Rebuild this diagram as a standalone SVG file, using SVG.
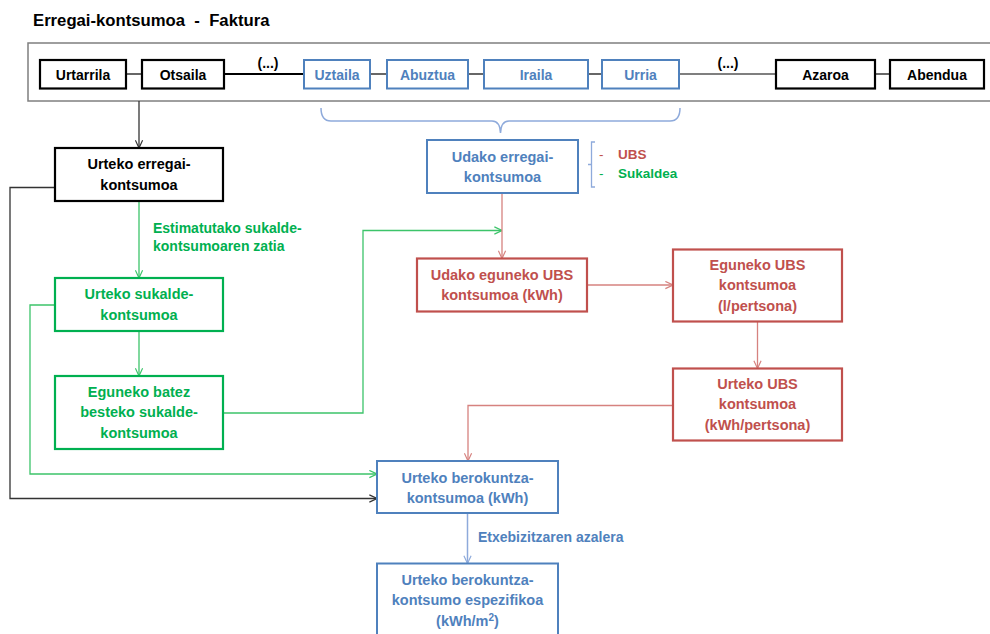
<svg xmlns="http://www.w3.org/2000/svg" width="990" height="634" viewBox="0 0 990 634">
<defs>
<style>
text{font-family:"Liberation Sans",Arial,sans-serif;font-weight:bold;}
.t{font-size:14.5px;text-anchor:middle;}
.m{font-size:14px;text-anchor:middle;}
.lbl{font-size:14px;}
.leg{font-size:13.5px;}
.kb{fill:#000;}
.kg{fill:#00b050;}
.kr{fill:#c0504d;}
.kbl{fill:#4f81bd;}
.bxk{fill:#fff;stroke:#000;stroke-width:2.2;}
.bxg{fill:#fff;stroke:#00b050;stroke-width:2.2;}
.bxr{fill:#fff;stroke:#c0504d;stroke-width:2.2;}
.bxb{fill:#fff;stroke:#4f81bd;stroke-width:2;}
.ck{fill:none;stroke:#333;stroke-width:1.3;}
.cg{fill:none;stroke:#3cc46a;stroke-width:1.3;}
.cr{fill:none;stroke:#d6827f;stroke-width:1.3;}
.cb{fill:none;stroke:#8eaadb;stroke-width:1.5;}
.ml{fill:none;stroke:#000;stroke-width:1.2;}
</style>
<marker id="ak" viewBox="0 0 10 10" refX="9.5" refY="5" markerWidth="9" markerHeight="9" markerUnits="userSpaceOnUse" orient="auto"><path d="M1,1 L9.5,5 L1,9" fill="none" stroke="#333" stroke-width="1.3"/></marker>
<marker id="ag" viewBox="0 0 10 10" refX="9.5" refY="5" markerWidth="9" markerHeight="9" markerUnits="userSpaceOnUse" orient="auto"><path d="M1,1 L9.5,5 L1,9" fill="none" stroke="#3cc46a" stroke-width="1.3"/></marker>
<marker id="ar" viewBox="0 0 10 10" refX="9.5" refY="5" markerWidth="9" markerHeight="9" markerUnits="userSpaceOnUse" orient="auto"><path d="M1,1 L9.5,5 L1,9" fill="none" stroke="#d6827f" stroke-width="1.3"/></marker>
<marker id="ab" viewBox="0 0 10 10" refX="9.5" refY="5" markerWidth="9" markerHeight="9" markerUnits="userSpaceOnUse" orient="auto"><path d="M1,1 L9.5,5 L1,9" fill="none" stroke="#8eaadb" stroke-width="1.3"/></marker>
</defs>
<rect width="990" height="634" fill="#fff"/>

<text x="33" y="26" style="font-size:16.7px" xml:space="preserve">Erregai-kontsumoa  -  Faktura</text>

<g id="timeline">
<rect x="28" y="43" width="975" height="58" fill="#fff" stroke="#7f7f7f" stroke-width="1.5"/>
<line class="ml" x1="126" y1="74" x2="142" y2="74"/>
<line class="ml" x1="224" y1="74" x2="304" y2="74" style="stroke-width:2"/>
<line class="ml" x1="370" y1="74" x2="387" y2="74"/>
<line class="ml" x1="468" y1="74" x2="484" y2="74"/>
<line class="ml" x1="588" y1="74" x2="602" y2="74"/>
<line class="ml" x1="679" y1="74" x2="776" y2="74"/>
<line class="ml" x1="875" y1="74" x2="890" y2="74"/>
<text class="m kb" x="268" y="68">(...)</text>
<text class="m kb" x="728" y="68">(...)</text>
<g id="m-urtarrila"><rect class="bxk" x="40" y="60" width="86" height="28.5"/><text class="m kb" x="83" y="79.5">Urtarrila</text></g>
<g id="m-otsaila"><rect class="bxk" x="142" y="60" width="82" height="28.5"/><text class="m kb" x="183" y="79.5">Otsaila</text></g>
<g id="m-uztaila"><rect class="bxb" x="304" y="60" width="66" height="28.5"/><text class="m kbl" x="337" y="79.5">Uztaila</text></g>
<g id="m-abuztua"><rect class="bxb" x="387" y="60" width="81" height="28.5"/><text class="m kbl" x="427.5" y="79.5">Abuztua</text></g>
<g id="m-iraila"><rect class="bxb" x="484" y="60" width="104" height="28.5"/><text class="m kbl" x="536" y="79.5">Iraila</text></g>
<g id="m-urria"><rect class="bxb" x="602" y="60" width="77" height="28.5"/><text class="m kbl" x="640.5" y="79.5">Urria</text></g>
<g id="m-azaroa"><rect class="bxk" x="776" y="60" width="99" height="28.5"/><text class="m kb" x="825.5" y="79.5">Azaroa</text></g>
<g id="m-abendua"><rect class="bxk" x="890" y="60" width="94" height="28.5"/><text class="m kb" x="937" y="79.5">Abendua</text></g>
</g>

<g id="brace">
<path d="M321,108 Q321,121 331,121 L492,121 Q500,121 500.5,133 Q501,121 509,121 L670,121 Q680,121 680,108" fill="none" stroke="#8eaadb" stroke-width="1.5"/>
</g>

<g id="connectors">
<path class="ck" d="M139,101 V148" marker-end="url(#ak)"/>
<path class="cg" d="M139,201 V278" marker-end="url(#ag)"/>
<path class="cg" d="M139,331 V376" marker-end="url(#ag)"/>
<path class="cg" d="M223,413 H363 V230.5 H502" marker-end="url(#ag)"/>
<path class="cg" d="M55,305 H30 V474 H377" marker-end="url(#ag)"/>
<path class="ck" d="M55,187.5 H10 V498.5 H377" marker-end="url(#ak)"/>
<path class="cr" d="M502,193 V258.5" marker-end="url(#ar)"/>
<path class="cr" d="M587,285 H673" marker-end="url(#ar)"/>
<path class="cr" d="M757.5,321.5 V368.5" marker-end="url(#ar)"/>
<path class="cr" d="M673,405.5 H468 V461" marker-end="url(#ar)"/>
<path class="cb" d="M467.5,513 V563.5" marker-end="url(#ab)"/>
<text class="lbl kg" x="153" y="233">Estimatutako sukalde-</text>
<text class="lbl kg" x="153" y="251">kontsumoaren zatia</text>
<text class="lbl kbl" x="478" y="542">Etxebizitzaren azalera</text>
</g>

<g id="n-urteko-erregai">
<rect class="bxk" x="55" y="148" width="168" height="53"/>
<text class="t kb" x="139" y="169">Urteko erregai-</text>
<text class="t kb" x="139" y="190">kontsumoa</text>
</g>
<g id="n-urteko-sukalde">
<rect class="bxg" x="55" y="278" width="168" height="53"/>
<text class="t kg" x="139" y="299">Urteko sukalde-</text>
<text class="t kg" x="139" y="320">kontsumoa</text>
</g>
<g id="n-eguneko-batez">
<rect class="bxg" x="55" y="376" width="168" height="73"/>
<text class="t kg" x="139" y="397">Eguneko batez</text>
<text class="t kg" x="139" y="417">besteko sukalde-</text>
<text class="t kg" x="139" y="438">kontsumoa</text>
</g>
<g id="n-udako-erregai">
<rect class="bxb" x="427" y="140" width="151" height="53"/>
<text class="t kbl" x="502.5" y="162">Udako erregai-</text>
<text class="t kbl" x="502.5" y="182">kontsumoa</text>
</g>
<g id="legend">
<path d="M595,142 H591.5 V187 H595 M591.5,164.5 H588" fill="none" stroke="#8eaadb" stroke-width="1.3"/>
<text class="leg kr" x="599" y="159" style="font-weight:normal">-</text>
<text class="leg kr" x="618" y="159">UBS</text>
<text class="leg kg" x="599" y="178" style="font-weight:normal">-</text>
<text class="leg kg" x="618" y="178">Sukaldea</text>
</g>
<g id="n-udako-eguneko-ubs">
<rect class="bxr" x="417" y="258.5" width="170" height="53"/>
<text class="t kr" x="502" y="280">Udako eguneko UBS</text>
<text class="t kr" x="502" y="300">kontsumoa (kWh)</text>
</g>
<g id="n-eguneko-ubs">
<rect class="bxr" x="673" y="249.5" width="169" height="72"/>
<text class="t kr" x="757.5" y="270">Eguneko UBS</text>
<text class="t kr" x="757.5" y="290">kontsumoa</text>
<text class="t kr" x="757.5" y="311">(l/pertsona)</text>
</g>
<g id="n-urteko-ubs">
<rect class="bxr" x="673" y="368.5" width="169" height="72"/>
<text class="t kr" x="757.5" y="389">Urteko UBS</text>
<text class="t kr" x="757.5" y="409">kontsumoa</text>
<text class="t kr" x="757.5" y="430">(kWh/pertsona)</text>
</g>
<g id="n-urteko-berokuntza">
<rect class="bxb" x="377" y="461" width="181" height="52"/>
<text class="t kbl" x="467.5" y="483">Urteko berokuntza-</text>
<text class="t kbl" x="467.5" y="503">kontsumoa (kWh)</text>
</g>
<g id="n-berokuntza-espezifikoa">
<rect class="bxb" x="377" y="563.5" width="181" height="80"/>
<text class="t kbl" x="467.5" y="585">Urteko berokuntza-</text>
<text class="t kbl" x="467.5" y="605">kontsumo espezifikoa</text>
<text class="t kbl" x="467.5" y="626">(kWh/m<tspan dy="-5" style="font-size:10px">2</tspan><tspan dy="5">)</tspan></text>
</g>
</svg>
